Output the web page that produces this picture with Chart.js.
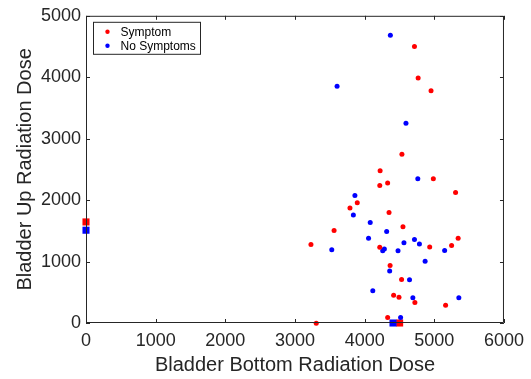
<!DOCTYPE html>
<html>
<head>
<meta charset="utf-8">
<script src="https://cdn.jsdelivr.net/npm/chart.js@4"></script>
<style>
  html, body { margin: 0; padding: 0; background: #fff; }
  #wrap { width: 531px; height: 379px; }
</style>
</head>
<body>
<div id="wrap"><canvas id="myChart"></canvas></div>
<script>
// bottom dose / up dose
let symptomX = [4715, 4768, 4953, 4535, 4222, 4986, 4217, 4330, 5305, 3894, 3789, 4350, 4550, 3561, 5342, 3229, 5248, 4217, 4934, 4365, 4530, 4416, 4493, 4721, 5162, 4330, 3305];
let symptomY = [4500, 3989, 3779, 2747, 2478, 2349, 2236, 2279, 2123, 1956, 1871, 1800, 1565, 1505, 1381, 1279, 1263, 1231, 1236, 935, 710, 452, 419, 332, 290, 90, -5];
let noSymptomX = [4369, 3604, 4593, 4763, 3860, 3838, 4080, 4316, 4056, 4715, 4564, 4786, 4283, 4259, 4479, 3528, 5148, 4868, 4359, 4644, 4117, 4692, 5352, 4516];
let noSymptomY = [4682, 3855, 3252, 2349, 2074, 1758, 1634, 1489, 1381, 1360, 1306, 1284, 1204, 1177, 1177, 1194, 1182, 1005, 848, 703, 526, 413, 413, 90];
// mean markers on the axes
let symptomMean = [4502, 1645];
let noSymptomMean = [4407, 1510];

let xTicks = [0, 1000, 2000, 3000, 4000, 5000, 6000];
let yTicks = [0, 1000, 2000, 3000, 4000, 5000];

function toPoints(xs, ys) {
  return xs.map((x, i) => ({ x: x, y: ys[i] }));
}

const textColor = '#262626';
const fontFamily = 'Liberation Sans, Arial, sans-serif';

// MATLAB style box with inward ticks plus the boxed legend
const boxPlugin = {
  id: 'boxPlugin',
  afterDatasetsDraw(chart) {
    const c = chart.ctx;
    const a = chart.chartArea;
    const xs = chart.scales.x, ys = chart.scales.y;
    c.save();
    c.strokeStyle = textColor;
    c.lineWidth = 1;
    c.beginPath();
    c.rect(a.left + 0.5, a.top + 0.5, a.right - a.left - 1, a.bottom - a.top - 1);
    c.stroke();
    c.beginPath();
    xTicks.forEach(t => {
      const px = Math.round(xs.getPixelForValue(t)) + 0.5;
      c.moveTo(px, a.bottom); c.lineTo(px, a.bottom - 4);
      c.moveTo(px, a.top); c.lineTo(px, a.top + 4);
    });
    yTicks.forEach(t => {
      const py = Math.round(ys.getPixelForValue(t)) + 0.5;
      c.moveTo(a.left, py); c.lineTo(a.left + 4, py);
      c.moveTo(a.right, py); c.lineTo(a.right - 4, py);
    });
    c.stroke();
    c.restore();
  },
  afterDraw(chart) {
    const c = chart.ctx;
    const a = chart.chartArea;
    const bx = a.left + 7.5, by = a.top + 6.5, bw = 107, bh = 32;
    c.save();
    c.fillStyle = '#fff';
    c.fillRect(bx, by, bw, bh);
    c.strokeStyle = textColor;
    c.lineWidth = 1;
    c.strokeRect(bx, by, bw, bh);
    c.font = '12px ' + fontFamily;
    c.textBaseline = 'middle';
    chart.data.datasets.slice(0, 2).forEach((ds, i) => {
      const cy = by + 9.5 + i * 14;
      c.fillStyle = ds.backgroundColor;
      c.beginPath();
      c.arc(bx + 14, cy, 2.2, 0, Math.PI * 2);
      c.fill();
      c.fillStyle = '#000';
      c.fillText(ds.label, bx + 27, cy + 0.5);
    });
    c.restore();
  }
};

let ctx = document.getElementById('myChart').getContext('2d');
let myChart = new Chart(ctx, {
  type: 'scatter',
  data: {
    datasets: [{
      label: 'Symptom',
      data: toPoints(symptomX, symptomY),
      backgroundColor: '#ff0000',
      borderWidth: 0,
      pointRadius: 2.5,
      clip: false
    }, {
      label: 'No Symptoms',
      data: toPoints(noSymptomX, noSymptomY),
      backgroundColor: '#0000ff',
      borderWidth: 0,
      pointRadius: 2.5,
      clip: false
    }, {
      label: 'No Symptoms mean',
      data: [{ x: noSymptomMean[0], y: 0 }, { x: 0, y: noSymptomMean[1] }],
      backgroundColor: '#0000ff',
      borderWidth: 0,
      pointStyle: 'rect',
      pointRadius: 5,
      clip: false
    }, {
      label: 'Symptom mean',
      data: [{ x: symptomMean[0], y: 0 }, { x: 0, y: symptomMean[1] }],
      backgroundColor: '#ff0000',
      borderWidth: 0,
      pointStyle: 'rect',
      pointRadius: 5,
      clip: false
    }]
  },
  options: {
    responsive: true,
    maintainAspectRatio: false,
    animation: false,
    layout: { padding: { top: 13, right: 23, left: 0, bottom: 0 } },
    plugins: {
      legend: { display: false },
      tooltip: { enabled: false }
    },
    scales: {
      x: {
        type: 'linear',
        min: 0,
        max: 6000,
        afterBuildTicks: s => { s.ticks = xTicks.map(v => ({ value: v })); },
        afterFit: s => { s.height = 56; },
        grid: { display: false, drawTicks: false },
        border: { display: false },
        ticks: { color: textColor, font: { size: 18, family: fontFamily }, padding: 7, maxRotation: 0, callback: v => String(v) },
        title: { display: true, text: 'Bladder Bottom Radiation Dose', color: textColor, font: { size: 20, family: fontFamily }, padding: { top: 0, bottom: 2 } }
      },
      y: {
        type: 'linear',
        min: 0,
        max: 5000,
        afterBuildTicks: s => { s.ticks = yTicks.map(v => ({ value: v })); },
        afterFit: s => { s.width = 86; },
        grid: { display: false, drawTicks: false },
        border: { display: false },
        ticks: { color: textColor, font: { size: 18, family: fontFamily }, padding: 5, callback: v => String(v) },
        title: { display: true, text: 'Bladder Up Radiation Dose', color: textColor, font: { size: 20, family: fontFamily }, padding: { top: 13, bottom: 0 } }
      }
    }
  },
  plugins: [boxPlugin]
});
</script>
</body>
</html>
